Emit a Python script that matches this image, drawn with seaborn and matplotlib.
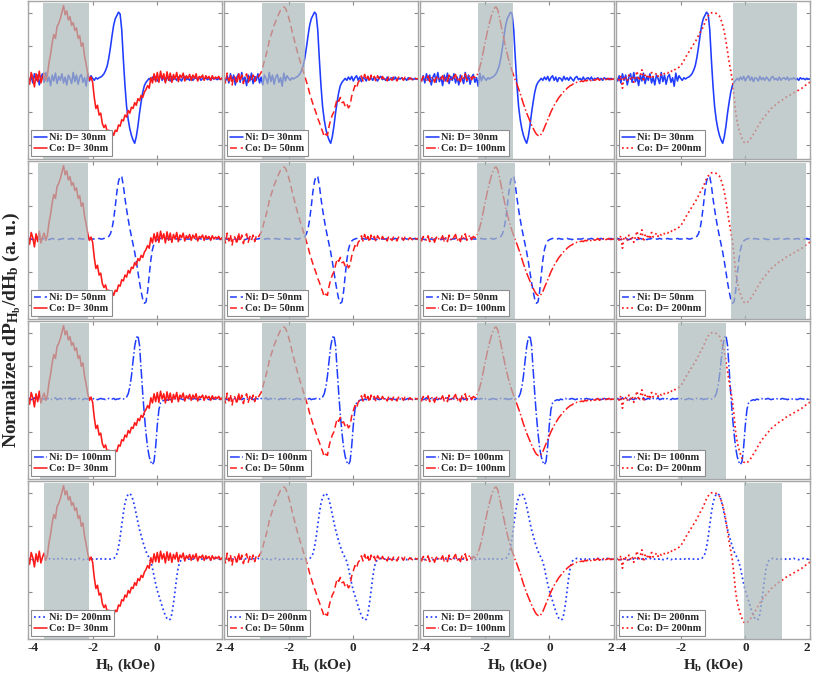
import numpy as np
import matplotlib
matplotlib.use("Agg")
import matplotlib.pyplot as plt
import seaborn as sns

# ---- data: field grid (kOe), 0.05 kOe steps from -4 to 2 ----
H = np.round(np.linspace(-4.0, 2.0, 121), 2)

# Ni curves (rows)
NI_30 = [0.02,-0.03,0.05,-0.06,0.08,-0.02,0.06,-0.09,0.03,0.08, -0.05,0.10,-0.04,0.03,-0.10,0.06,-0.03,0.09,-0.07,0.04,
         -0.02,0.08,-0.06,0.03,-0.09,0.06,0.01,-0.07,0.10,-0.04, 0.06,-0.08,0.03,0.07,-0.05,0.02,-0.11,0.09,-0.03,0.05,
         0.01,-0.02,0.02,0.00,0.02,0.03,0.05,0.08,0.13,0.20, 0.32,0.48,0.66,0.82,0.92,0.97,1.02,0.99,0.75,0.30,
         -0.10,-0.42,-0.62,-0.76,-0.86,-0.93,-0.98,-0.88,-0.72,-0.52, -0.35,-0.20,-0.10,-0.05,-0.02,0.01,-0.02,0.03,-0.01,0.04,
         -0.03,0.02,0.05,-0.02,0.03,-0.04,0.02,0.01,-0.03,0.04, -0.01,0.02,-0.02,0.03,0.00,-0.03,0.02,0.04,-0.01,0.01,
         -0.02,0.03,-0.02,0.01,0.02,-0.01,0.03,-0.02,0.01,0.00, 0.02,-0.01,0.01,-0.02,0.02,0.00,0.01,-0.01,0.01,0.00,0.00]
NI_50 = [0.00,0.01,0.00,-0.01,0.00,0.01,0.00,0.00,-0.01,0.00, 0.01,0.00,0.00,-0.01,0.00,0.01,0.00,0.00,0.01,-0.01,
         0.00,0.00,0.01,0.00,-0.01,0.00,0.00,0.01,0.00,0.00, -0.01,0.00,0.01,0.00,0.00,0.00,-0.01,0.00,0.01,0.00,
         0.00,0.00,-0.01,0.00,0.01,0.00,0.00,0.01,0.01,0.02, 0.04,0.08,0.16,0.30,0.50,0.72,0.88,0.96,0.95,0.82,
         0.62,0.45,0.30,0.16,0.04,-0.08,-0.20,-0.34,-0.50,-0.66, -0.80,-0.92,-0.98,-0.96,-0.80,-0.55,-0.32,-0.16,-0.07,-0.03,
         -0.01,0.00,0.01,0.00,-0.01,0.00,0.01,0.00,0.00,-0.01, 0.00,0.01,0.00,0.00,-0.01,0.00,0.01,0.00,0.00,0.00,
         0.00,0.01,0.00,-0.01,0.00,0.00,0.01,0.00,0.00,-0.01, 0.00,0.00,0.01,0.00,0.00,-0.01,0.00,0.00,0.01,0.00,0.00]
NI_100 = [0.00,0.01,-0.01,0.00,0.02,-0.01,0.00,0.01,-0.02,0.01, 0.00,-0.01,0.01,0.00,0.01,-0.01,0.00,0.02,-0.01,0.00,
          0.01,0.00,-0.01,0.01,0.00,0.00,0.02,-0.01,0.00,0.01, -0.01,0.00,0.01,0.00,-0.01,0.01,0.00,0.00,0.01,-0.01,
          0.00,0.01,0.00,-0.01,0.00,0.01,0.00,0.00,-0.01,0.00, 0.01,0.00,0.00,0.01,-0.01,0.00,0.00,0.01,0.00,0.00,
          0.01,0.03,0.08,0.18,0.35,0.58,0.80,0.93,0.97,0.82, 0.45,0.08,-0.25,-0.52,-0.74,-0.88,-0.96,-1.00,-0.95,-0.72,
          -0.40,-0.16,-0.06,-0.03,-0.02,-0.01,-0.02,0.00,-0.01,0.00, 0.01,-0.01,0.00,0.00,0.01,0.00,-0.01,0.00,0.00,0.01,
          0.00,-0.01,0.00,0.01,0.00,0.00,-0.01,0.00,0.01,0.00, 0.00,0.00,-0.01,0.00,0.01,0.00,0.00,-0.01,0.00,0.00,0.00]
NI_200 = [0.00,0.01,0.00,-0.01,0.01,0.00,0.00,0.01,-0.01,0.00, 0.01,0.00,-0.01,0.00,0.01,0.00,0.00,-0.01,0.01,0.00,
          0.00,0.01,0.00,-0.01,0.00,0.01,0.00,0.00,0.01,-0.01, 0.00,0.00,0.01,0.00,-0.01,0.00,0.01,0.00,0.00,0.00,
          0.00,0.01,0.00,0.00,-0.01,0.00,0.01,0.00,0.00,0.00, 0.00,0.00,0.01,0.01,0.03,0.08,0.18,0.33,0.52,0.70,
          0.85,0.94,0.99,1.00,0.97,0.90,0.80,0.68,0.56,0.45, 0.36,0.27,0.19,0.12,0.06,0.02,-0.04,-0.14,-0.26,-0.38,
          -0.48,-0.56,-0.64,-0.72,-0.80,-0.86,-0.91,-0.93,-0.92,-0.84, -0.68,-0.48,-0.28,-0.12,-0.04,-0.01,0.00,0.01,0.00,0.00,
          0.00,0.01,0.00,0.00,-0.01,0.00,0.01,0.00,0.00,0.00, 0.01,0.00,0.00,-0.01,0.00,0.00,0.01,0.00,0.00,0.00,0.00]

# Co curves (columns)
CO_30 = [0.05,-0.08,0.10,0.02,-0.12,0.08,-0.04,0.12,-0.06,0.03, 0.09,-0.02,0.05,0.25,0.38,0.55,0.68,0.62,0.80,0.85,
         0.92,1.02,1.12,0.98,1.04,0.90,0.95,0.82,0.86,0.74, 0.78,0.62,0.66,0.50,0.55,0.35,0.22,0.08,-0.02,0.03,
         -0.05,-0.28,-0.45,-0.40,-0.55,-0.52,-0.68,-0.74,-0.70,-0.80, -0.78,-0.84,-0.80,-0.86,-0.78,-0.80,-0.70,-0.72,-0.62,-0.64,
         -0.55,-0.58,-0.48,-0.52,-0.43,-0.45,-0.36,-0.40,-0.30,-0.33, -0.25,-0.28,-0.20,-0.16,-0.10,-0.14,0.02,-0.06,0.08,-0.04,
         0.10,-0.05,0.12,0.00,0.08,-0.06,0.11,-0.02,0.09,-0.05, 0.07,0.00,0.10,-0.04,0.06,0.02,0.09,-0.03,0.05,0.01,
         0.07,-0.02,0.06,0.01,0.08,-0.03,0.04,0.02,0.06,-0.02, 0.05,0.01,0.04,-0.02,0.05,0.00,0.03,0.01,0.04,-0.01,0.02]
CO_50 = [0.04,-0.06,0.09,-0.03,0.07,-0.10,0.05,0.02,-0.08,0.10, -0.04,0.06,-0.07,0.03,0.08,-0.05,0.04,-0.02,0.06,-0.04,
         0.05,0.02,0.06,0.10,0.18,0.28,0.36,0.46,0.58,0.66, 0.74,0.82,0.88,0.94,1.00,1.05,1.08,1.10,1.08,1.02,
         0.94,0.85,0.74,0.64,0.55,0.45,0.36,0.28,0.20,0.12, 0.04,-0.04,-0.12,-0.22,-0.30,-0.38,-0.45,-0.52,-0.60,-0.66,
         -0.74,-0.80,-0.88,-0.84,-0.86,-0.72,-0.62,-0.55,-0.50,-0.40, -0.30,-0.34,-0.28,-0.36,-0.35,-0.42,-0.38,-0.44,-0.40,-0.26,
         -0.18,-0.10,-0.14,-0.05,-0.02,0.05,-0.03,0.07,-0.02,0.04, -0.05,0.06,0.00,0.04,-0.04,0.05,0.01,-0.03,0.04,0.00,
         0.03,-0.03,0.05,0.00,-0.02,0.04,0.01,-0.03,0.03,0.00, 0.02,-0.02,0.03,0.00,-0.01,0.02,0.00,-0.02,0.02,0.00,0.01]
CO_100 = [0.02,-0.03,0.04,0.00,-0.02,0.05,-0.04,0.01,0.03,-0.05, 0.02,0.04,-0.02,0.00,0.05,-0.03,0.02,-0.04,0.06,0.00,
          -0.02,0.03,0.07,-0.03,0.02,-0.04,0.05,0.01,0.08,-0.02, 0.03,0.06,-0.01,0.04,0.02,0.04,0.10,0.18,0.28,0.40,
          0.52,0.64,0.76,0.86,0.95,1.02,1.08,1.10,1.06,0.96, 0.84,0.72,0.60,0.48,0.38,0.28,0.20,0.12,0.05,-0.02,
          -0.08,-0.15,-0.22,-0.30,-0.38,-0.45,-0.52,-0.58,-0.64,-0.70, -0.75,-0.80,-0.84,-0.86,-0.87,-0.84,-0.80,-0.74,-0.68,-0.62,
          -0.56,-0.50,-0.45,-0.40,-0.36,-0.32,-0.28,-0.25,-0.22,-0.19, -0.17,-0.14,-0.12,-0.10,-0.09,-0.07,-0.06,-0.05,-0.05,-0.04,
          -0.03,-0.04,-0.02,-0.03,-0.01,-0.03,-0.02,0.00,-0.02,-0.01, 0.01,-0.02,0.00,-0.01,0.02,-0.01,0.00,0.01,-0.01,0.00,0.00]
CO_200 = [0.00,0.03,-0.02,0.05,-0.14,0.04,0.02,-0.03,0.06,0.00, 0.04,-0.05,0.03,0.12,-0.02,0.05,0.14,-0.04,0.06,0.02,
          0.07,0.00,0.10,0.03,0.05,0.09,0.04,0.08,0.06,0.09, 0.08,0.10,0.09,0.12,0.11,0.14,0.13,0.16,0.17,0.18,
          0.20,0.24,0.28,0.33,0.37,0.41,0.45,0.49,0.53,0.57, 0.61,0.66,0.71,0.75,0.80,0.86,0.92,0.96,1.00,1.01,
          1.01,1.01,1.00,0.98,0.96,0.90,0.82,0.72,0.58,0.42, 0.26,0.12,-0.02,-0.25,-0.50,-0.66,-0.76,-0.84,-0.91,-0.96,
          -0.98,-0.97,-0.95,-0.92,-0.88,-0.84,-0.80,-0.76,-0.71,-0.67, -0.63,-0.60,-0.57,-0.54,-0.51,-0.48,-0.45,-0.43,-0.41,-0.39,
          -0.37,-0.35,-0.33,-0.32,-0.30,-0.28,-0.27,-0.25,-0.24,-0.22, -0.21,-0.20,-0.18,-0.17,-0.15,-0.14,-0.12,-0.10,-0.08,-0.06,-0.05]

NI_CURVES = [NI_30, NI_50, NI_100, NI_200]
CO_CURVES = [CO_30, CO_50, CO_100, CO_200]
SIZES = ["30nm", "50nm", "100nm", "200nm"]
NI_LABELS = ["Ni: D= " + s for s in SIZES]
CO_LABELS = ["Co: D= " + s for s in SIZES]

# shaded field windows (kOe): [row][col]
SPAN_LO = [[-3.55, -2.82, -2.20, -0.38],
           [-3.69, -2.88, -2.23, -0.44],
           [-3.63, -2.82, -2.23, -2.08],
           [-3.50, -2.88, -2.41, -0.05]]
SPAN_HI = [[-2.10, -1.48, -1.11, 1.60],
           [-2.14, -1.45, -1.05, 1.88],
           [-2.11, -1.45, -1.02, -0.60],
           [-2.11, -1.42, -1.10, 1.13]]

XTICKS = [-4, -2, 0, 2]
XTICK_LABELS = ["-4", "-2", "0", "2"]
YTICKS = [-1, -0.5, 0, 0.5, 1]

for name, arr in zip(["NI_30", "NI_50", "NI_100", "NI_200", "CO_30", "CO_50", "CO_100", "CO_200"],
                     NI_CURVES + CO_CURVES):
    assert len(arr) == len(H), (name, len(arr))

# ---- style ----
sns.set_theme(style="white")
plt.rcParams.update({
    "font.family": ["Liberation Serif", "DejaVu Serif"],
    "font.weight": "bold",
    "mathtext.fontset": "custom",
    "mathtext.rm": "Liberation Serif:bold",
    "mathtext.it": "Liberation Serif:bold",
    "mathtext.bf": "Liberation Serif:bold",
    "axes.edgecolor": "#a6a6a6",
    "axes.linewidth": 1.0,
})

BLUE = "#1f3cff"
RED = "#ff1a1a"
SPAN_COLOR = "#abb9b9"
STYLES = ["-", (0, (4.5, 2.5)), "-.", ":"]
WIDTHS = [1.15, 1.1, 1.1, 1.25]

fig, axes = plt.subplots(4, 4, figsize=(8.13, 6.74), dpi=100, sharex=True, sharey=True)
fig.subplots_adjust(left=0.0344, right=0.9963, top=0.9985, bottom=0.0519,
                    wspace=0.0103, hspace=0.0127)

for r in range(4):
    for c in range(4):
        ax = axes[r][c]
        sns.lineplot(x=H, y=NI_CURVES[r], ax=ax, color=BLUE, linestyle=STYLES[r],
                     linewidth=WIDTHS[r], label=NI_LABELS[r], estimator=None, sort=False)
        sns.lineplot(x=H, y=CO_CURVES[c], ax=ax, color=RED, linestyle=STYLES[c],
                     linewidth=WIDTHS[c], label=CO_LABELS[c], estimator=None, sort=False)
        ax.axvspan(SPAN_LO[r][c], SPAN_HI[r][c], ymin=0.0, ymax=0.985,
                   color=SPAN_COLOR, alpha=0.7, lw=0, zorder=3)
        ax.set_xlim(-4, 2)
        ax.set_ylim(-1.22, 1.19)
        ax.set_xticks(XTICKS)
        ax.set_yticks(YTICKS)
        ax.tick_params(direction="in", length=3, width=0.8, color="#8c8c8c",
                       top=True, right=True, bottom=True, left=True,
                       labelleft=False, labelsize=9.5, pad=2)
        for sp in ax.spines.values():
            sp.set_color("#a6a6a6")
            sp.set_linewidth(1.0)
        ax.set_xlabel("")
        ax.set_ylabel("")
        leg = ax.legend(loc="lower left", prop={"family": "Liberation Serif", "weight": "bold", "size": 7.5},
                        frameon=True, fancybox=False, edgecolor="#8c8c8c", framealpha=1,
                        borderaxespad=0.25, borderpad=0.3, labelspacing=0.15,
                        handlelength=1.3, handletextpad=0.2)
        leg.get_frame().set_linewidth(0.8)
        leg.set_zorder(10)
        if r == 3:
            ax.set_xticklabels(XTICK_LABELS, fontweight="bold")
            labs = ax.get_xticklabels()
            labs[0].set_horizontalalignment("left")
            labs[-1].set_horizontalalignment("right")
            ax.set_xlabel(r"H$_{\mathrm{b}}$ (kOe)", fontsize=11, fontweight="bold", labelpad=2)

fig.text(0.015, 0.51, r"Normalized dP$_{\mathrm{H}_{\mathrm{b}}}$/dH$_{\mathrm{b}}$ (a. u.)",
         rotation=90, ha="center", va="center", fontsize=14, fontweight="bold")

fig.savefig("out.png", dpi=100)
